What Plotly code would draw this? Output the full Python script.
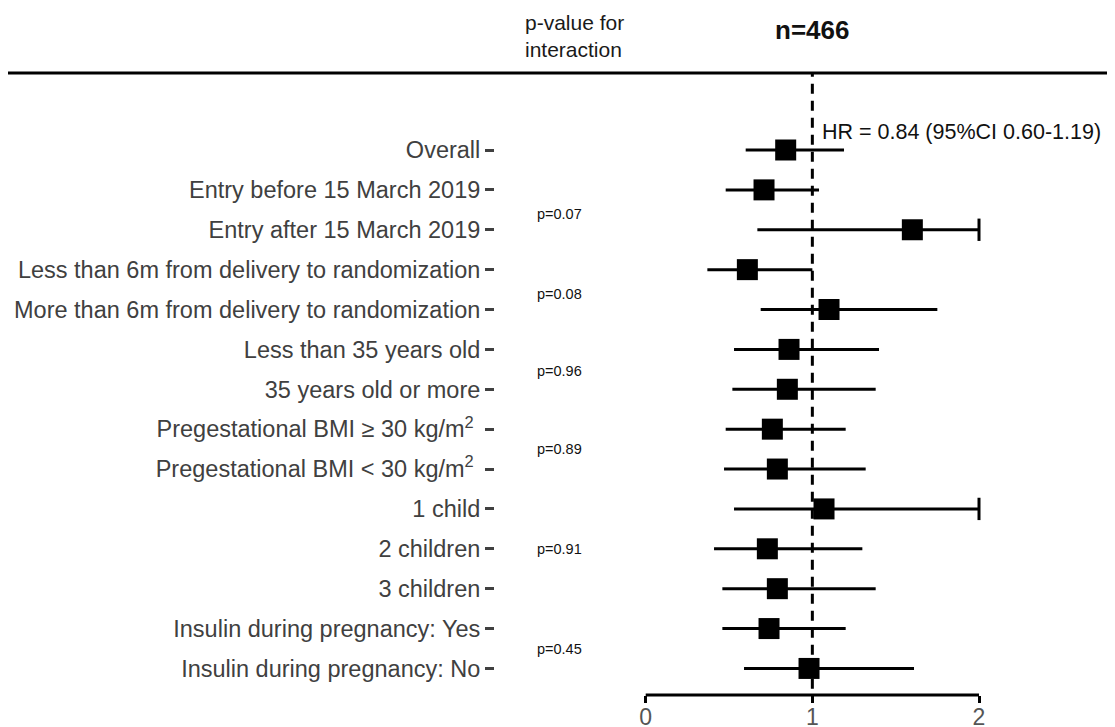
import plotly.graph_objects as go

labels = [
    "Overall",
    "Entry before 15 March 2019",
    "Entry after 15 March 2019",
    "Less than 6m from delivery to randomization",
    "More than 6m from delivery to randomization",
    "Less than 35 years old",
    "35 years old or more",
    "Pregestational BMI \u2265 30 kg/m<sup>2</sup>\u00a0",
    "Pregestational BMI < 30 kg/m<sup>2</sup>\u00a0",
    "1 child",
    "2 children",
    "3 children",
    "Insulin during pregnancy: Yes",
    "Insulin during pregnancy: No",
]
hr = [0.84, 0.71, 1.60, 0.61, 1.10, 0.86, 0.85, 0.76, 0.79, 1.07, 0.73, 0.79, 0.74, 0.98]
ci_low = [0.60, 0.48, 0.67, 0.37, 0.69, 0.53, 0.52, 0.48, 0.47, 0.53, 0.41, 0.46, 0.46, 0.59]
ci_high = [1.19, 1.04, 2.00, 1.00, 1.75, 1.40, 1.38, 1.20, 1.32, 2.00, 1.30, 1.38, 1.20, 1.61]
truncated = [False, False, True, False, False, False, False, False, False, True, False, False, False, False]

p_values = ["p=0.07", "p=0.08", "p=0.96", "p=0.89", "p=0.91", "p=0.45"]
p_rows = [1.6, 3.6, 5.55, 7.5, 10.0, 12.5]

rows = list(range(len(labels)))
FONT = "Liberation Sans, Arial, sans-serif"

# page is rendered with an 8px body margin; figure is sized to fill the rest
OFF = 8
W, H = 1115 - OFF, 727 - OFF
L, R = 495 - OFF, 1110 - OFF
T, B = 73 - OFF, 695 - OFF
X0PX = 645.7 - OFF
XSCALE = 166.65
Y0PX, YSTEP = 150 - OFF, 39.88

fig = go.Figure()

# CI lines
cx, cy = [], []
for i in rows:
    cx += [ci_low[i], ci_high[i], None]
    cy += [i, i, None]
fig.add_trace(go.Scatter(x=cx, y=cy, mode="lines", line=dict(color="black", width=3),
                         hoverinfo="skip", showlegend=False))

# caps for truncated intervals
capx, capy = [], []
for i in rows:
    if truncated[i]:
        capx += [ci_high[i], ci_high[i], None]
        capy += [i - 0.28, i + 0.28, None]
fig.add_trace(go.Scatter(x=capx, y=capy, mode="lines", line=dict(color="black", width=3),
                         hoverinfo="skip", showlegend=False))

# point estimates
fig.add_trace(go.Scatter(x=hr, y=rows, mode="markers",
                         marker=dict(symbol="square", size=21, color="black", line=dict(width=0)),
                         showlegend=False))

x_lo = (L - X0PX) / XSCALE
x_hi = (R - X0PX) / XSCALE
y_top = (T - Y0PX) / YSTEP
y_bot = (B - Y0PX) / YSTEP
pw = R - L

fig.update_layout(
    width=W, height=H,
    margin=dict(l=L, r=W - R, t=T, b=H - B, pad=0),
    plot_bgcolor="white", paper_bgcolor="white",
    font=dict(family=FONT, color="#404040"),
    xaxis=dict(range=[x_lo, x_hi], tickvals=[0, 1, 2], ticktext=["0", "1", "2"],
               showgrid=False, zeroline=False, showline=False, automargin=False,
               ticks="outside", ticklen=7, tickwidth=3, tickcolor="black",
               ticklabelstandoff=-6,
               tickfont=dict(size=23, color="#555555", family=FONT)),
    yaxis=dict(range=[y_bot, y_top], tickvals=rows, ticktext=labels,
               showgrid=False, zeroline=False, showline=False, automargin=False,
               ticks="outside", ticklen=9, tickwidth=2.5, tickcolor="#404040",
               ticklabelstandoff=0,
               tickfont=dict(size=23.5, color="#404040", family=FONT)),
)

# dashed reference line at HR=1
fig.add_shape(type="line", xref="x", yref="paper", x0=1, x1=1, y0=0.01, y1=1,
              line=dict(color="black", width=3, dash="10px,7px"))
# bottom axis line from 0 to 2
fig.add_shape(type="line", xref="x", yref="paper", x0=0, x1=2, y0=0, y1=0,
              line=dict(color="black", width=3))
# top horizontal rule across the figure
fig.add_shape(type="line", xref="paper", yref="paper", x0=(0 - L) / pw, x1=(W - L) / pw,
              y0=1, y1=1, line=dict(color="black", width=3))

# headers
fig.add_annotation(xref="paper", yref="paper", x=(523 - OFF - L) / pw, y=1, yshift=37,
                   xanchor="left", yanchor="middle", align="left", showarrow=False,
                   text="p-value for<br>interaction",
                   font=dict(size=21, color="#1a1a1a", family=FONT))
fig.add_annotation(xref="x", yref="paper", x=1, y=1, yshift=43,
                   xanchor="center", yanchor="middle", showarrow=False,
                   text="<b>n=466</b>", font=dict(size=26, color="#111111", family=FONT))
fig.add_annotation(xref="x", yref="y", x=1.045, y=0, yshift=18,
                   xanchor="left", yanchor="middle", showarrow=False,
                   text="HR = 0.84 (95%CI 0.60-1.19)", font=dict(size=21.5, color="#111111", family=FONT))

for t, r in zip(p_values, p_rows):
    fig.add_annotation(xref="paper", yref="y", x=(535 - OFF - L) / pw, y=r,
                       xanchor="left", yanchor="middle", showarrow=False,
                       text=t, font=dict(size=14.5, color="#111111", family=FONT))

fig.write_html("out.html")
